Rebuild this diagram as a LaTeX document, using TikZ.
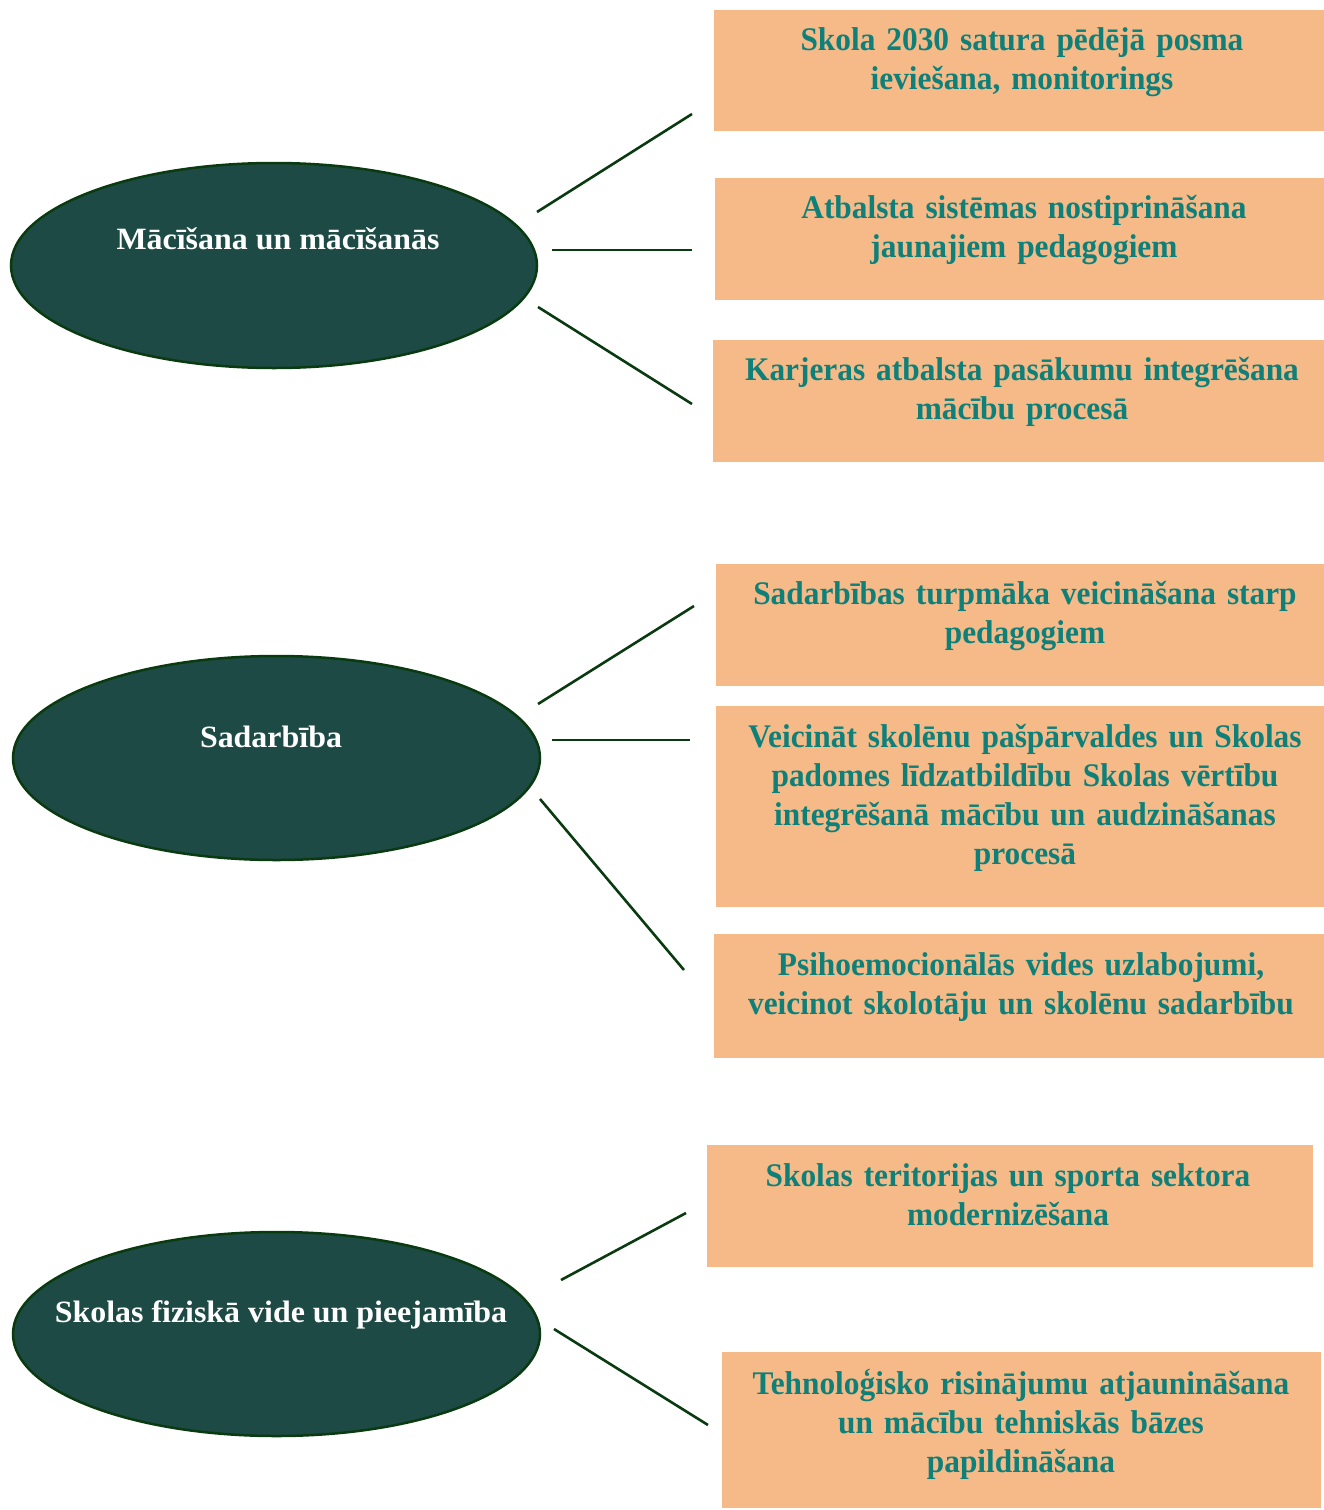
\documentclass[tikz,border=0pt]{standalone}
\usepackage{fontspec}
\setmainfont{Liberation Serif}[FakeStretch=0.95]
\newfontfamily\ovalfont{Liberation Serif}[FakeStretch=1.03]
\usetikzlibrary{shapes.geometric}
\definecolor{boxfill}{RGB}{245,186,136}
\definecolor{boxtext}{RGB}{14,128,122}
\definecolor{ellfill}{RGB}{30,74,69}
\definecolor{edgegreen}{RGB}{10,58,16}
\tikzset{
  box/.style={draw=none, fill=boxfill, anchor=north west, inner sep=0pt},
  boxlabel/.style={text=boxtext, font=\fontsize{33}{39}\selectfont\bfseries, text width=620pt, align=center, anchor=base, inner sep=0pt},
  oval/.style={ellipse, draw=edgegreen, line width=2.5pt, fill=ellfill, inner sep=0pt},
  ovallabel/.style={text=white, font=\ovalfont\fontsize{31}{36}\selectfont\bfseries, anchor=base, inner sep=0pt},
  link/.style={draw=edgegreen, line width=2.6pt}
}
\begin{document}
\begin{tikzpicture}[x=1pt,y=-1pt]
\useasboundingbox (0,0) rectangle (1324,1510);
% boxes
\node[box, minimum width=610pt, minimum height=121pt] (b1) at (714,10) {};
\node[box, minimum width=609pt, minimum height=122pt] (b2) at (715,178) {};
\node[box, minimum width=611pt, minimum height=122pt] (b3) at (713,340) {};
\node[box, minimum width=608pt, minimum height=122pt] (b4) at (716,564) {};
\node[box, minimum width=608pt, minimum height=201pt] (b5) at (716,706) {};
\node[box, minimum width=610pt, minimum height=124pt] (b6) at (714,934) {};
\node[box, minimum width=606pt, minimum height=122pt] (b7) at (707,1145) {};
\node[box, minimum width=599pt, minimum height=156pt] (b8) at (722,1352) {};
% box texts
\node[boxlabel] (t1) at (1022,50) {Skola 2030 satura pēdējā posma\\ieviešana, monitorings};
\node[boxlabel] (t2) at (1024,218) {Atbalsta sistēmas nostiprināšana\\jaunajiem pedagogiem};
\node[boxlabel] (t3) at (1022,380) {Karjeras atbalsta pasākumu integrēšana\\mācību procesā};
\node[boxlabel] (t4) at (1025,604) {Sadarbības turpmāka veicināšana starp\\pedagogiem};
\node[boxlabel] (t5) at (1025,747) {Veicināt skolēnu pašpārvaldes un Skolas\\padomes līdzatbildību Skolas vērtību\\integrēšanā mācību un audzināšanas\\procesā};
\node[boxlabel] (t6) at (1021,975) {Psihoemocionālās vides uzlabojumi,\\veicinot skolotāju un skolēnu sadarbību};
\node[boxlabel] (t7) at (1008,1186) {Skolas teritorijas un sporta sektora\\modernizēšana};
\node[boxlabel] (t8) at (1021,1394) {Tehnoloģisko risinājumu atjaunināšana\\un mācību tehniskās bāzes\\papildināšana};
% ellipses
\node[oval, minimum width=526pt, minimum height=205pt] (e1) at (274,265.5) {};
\node[oval, minimum width=527pt, minimum height=204pt] (e2) at (276.5,758) {};
\node[oval, minimum width=527pt, minimum height=204pt] (e3) at (276.5,1334) {};
\node[ovallabel] (l1) at (278,249) {Mācīšana un mācīšanās};
\node[ovallabel] (l2) at (271,747) {Sadarbība};
\node[ovallabel] (l3) at (281,1322) {Skolas fiziskā vide un pieejamība};
% connector end points
\coordinate (a1) at (537,212); \coordinate (c1) at (692,114);
\coordinate (a2) at (552,250); \coordinate (c2) at (692,250);
\coordinate (a3) at (538,307); \coordinate (c3) at (692,404);
\coordinate (a4) at (538,704); \coordinate (c4) at (694,606);
\coordinate (a5) at (552,740); \coordinate (c5) at (690,740);
\coordinate (a6) at (540,799); \coordinate (c6) at (684,970);
\coordinate (a7) at (561,1280); \coordinate (c7) at (686,1213);
\coordinate (a8) at (554,1329); \coordinate (c8) at (708,1425);
\draw[link] (a1) -- (c1);
\draw[link] (a2) -- (c2);
\draw[link] (a3) -- (c3);
\draw[link] (a4) -- (c4);
\draw[link] (a5) -- (c5);
\draw[link] (a6) -- (c6);
\draw[link] (a7) -- (c7);
\draw[link] (a8) -- (c8);
\end{tikzpicture}
\end{document}
